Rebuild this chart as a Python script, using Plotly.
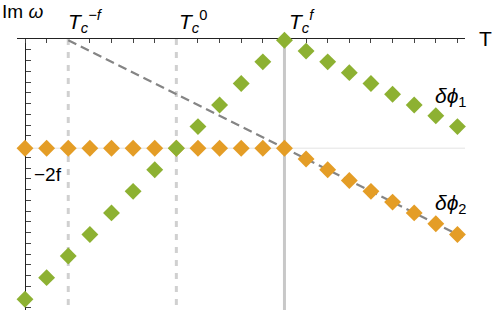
import plotly.graph_objects as go

# ---- data ----
T = list(range(0, 21))
im_phi1 = [-24, -22, -20, -18, -16, -14, -12, -10, -8, -6, -4, -2, 0,
           -1, -2, -3, -4, -5, -6, -7, -8]
im_phi2 = [-10, -10, -10, -10, -10, -10, -10, -10, -10, -10, -10, -10, -10,
           -11, -12, -13, -14, -15, -16, -17, -18]
tc_vals = [2, 7, 12]          # T_c^{-f}, T_c^0, T_c^f
minus2f = -10
diag_x = [2, 20.25]
diag_y = [0, -18.25]

W, H = 498, 328
X0PIX = 25.0
xmin, xmax = -0.384, 20.35
ymin, ymax = -25.0, 0.12
TOP, BOT = 39, 310

GREEN = "#8DB132"
ORANGE = "#E49D26"
FONT = "Liberation Sans, Arial, sans-serif"

fig = go.Figure()

# reference line at -2f
fig.add_trace(go.Scatter(x=[xmin, xmax], y=[minus2f, minus2f], mode="lines",
                         line=dict(color="#E3E3E3", width=1), hoverinfo="skip"))
# vertical critical temperature lines
for i, xv in enumerate(tc_vals):
    if i < 2:
        ln = dict(color="#D0D0D0", width=3, dash="6px,7px")
    else:
        ln = dict(color="#C8C8C8", width=3)
    fig.add_trace(go.Scatter(x=[xv, xv], y=[ymax, ymin], mode="lines",
                             line=ln, hoverinfo="skip"))
# dashed diagonal
fig.add_trace(go.Scatter(x=diag_x, y=diag_y, mode="lines",
                         line=dict(color="#858585", width=2.2, dash="9px,5px"),
                         hoverinfo="skip"))
# series
fig.add_trace(go.Scatter(x=T, y=im_phi2, mode="markers", cliponaxis=False,
                         marker=dict(symbol="diamond", size=13, color=ORANGE,
                                     line=dict(width=0))))
fig.add_trace(go.Scatter(x=T, y=im_phi1, mode="markers", cliponaxis=False,
                         marker=dict(symbol="diamond", size=13, color=GREEN,
                                     line=dict(width=0))))

def pxp(p):
    return p / W

def pyp(p):
    return (BOT - p) / (BOT - TOP)

anns = [
    ("Im <i>ω</i>", 1, 11, 19),
    ("T", 478, 38, 21),
    ("<i>T<sub>c</sub><sup>−f</sup></i>", 67, 22, 21),
    ("<i>T<sub>c</sub></i><sup>0</sup>", 178, 22, 21),
    ("<i>T<sub>c</sub><sup>f</sup></i>", 288, 22, 21),
    ("−2f", 33, 174, 19),
    ("<i>δϕ</i><sub>1</sub>", 434, 97, 21),
    ("<i>δϕ</i><sub>2</sub>", 434, 204, 21),
]
annotations = []
for txt, lx, cy, fs in anns:
    annotations.append(dict(text=txt, x=pxp(lx), y=pyp(cy), xref="paper", yref="paper",
                            xanchor="left", yanchor="middle", showarrow=False,
                            borderpad=0, font=dict(family=FONT, size=fs, color="#000")))

ytick_step = 0.9965
fig.update_layout(
    width=W, height=H,
    margin=dict(l=0, r=0, t=TOP, b=H - BOT, pad=0),
    paper_bgcolor="white", plot_bgcolor="white",
    showlegend=False,
    annotations=annotations,
    xaxis=dict(range=[xmin, xmax], domain=[16.7 / W, 465.0 / W], side="top",
               showline=True, linecolor="#222", linewidth=1, layer="below traces",
               ticks="inside", ticklen=4, tickcolor="#444", tickwidth=1,
               tickvals=T, showticklabels=False, showgrid=False, zeroline=False),
    yaxis=dict(range=[ymin, ymax], anchor="free", position=X0PIX / W,
               showline=True, linecolor="#222", linewidth=1, layer="below traces",
               ticks="inside", ticklen=5, tickcolor="#444", tickwidth=1,
               tickvals=[ymax - ytick_step * k for k in range(26)], showticklabels=False,
               showgrid=False, zeroline=False),
)

fig.write_html("out.html", config={"displayModeBar": False},
               post_script="document.body.style.margin='0';")
